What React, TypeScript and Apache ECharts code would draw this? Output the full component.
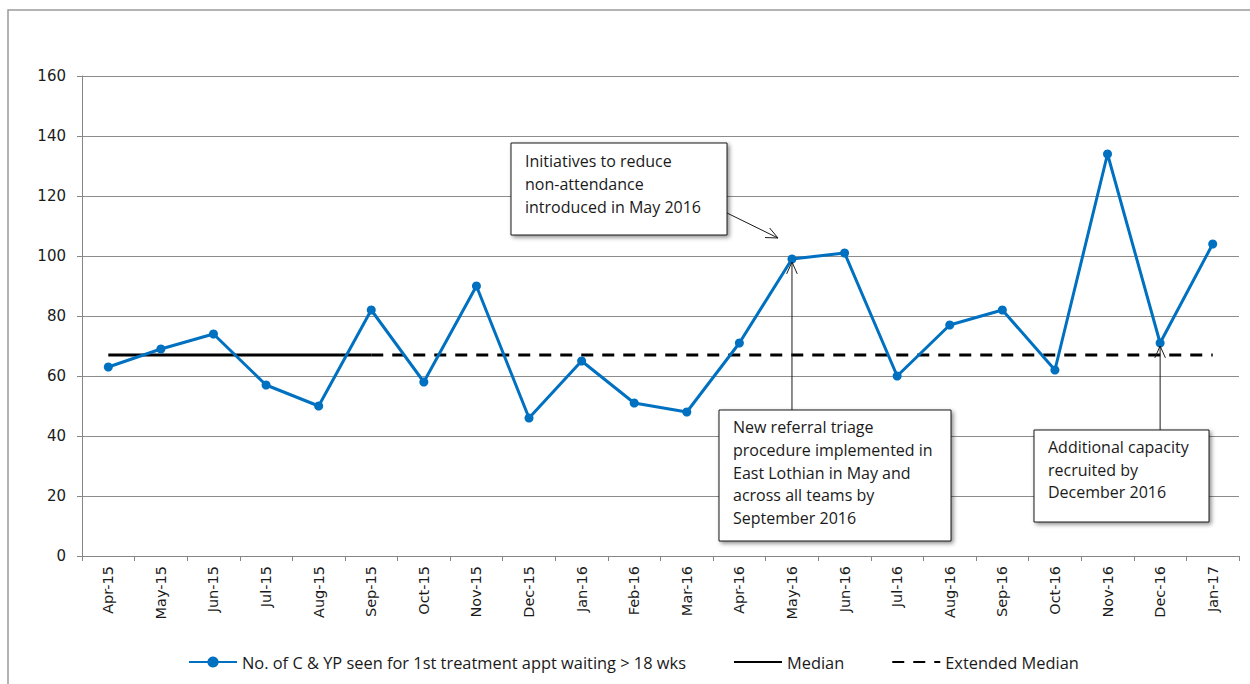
import React, { useEffect, useRef } from "react";
import * as echarts from "echarts";

// Monthly categories shown on the x axis
const months = [
  "Apr-15", "May-15", "Jun-15", "Jul-15", "Aug-15", "Sep-15", "Oct-15", "Nov-15",
  "Dec-15", "Jan-16", "Feb-16", "Mar-16", "Apr-16", "May-16", "Jun-16", "Jul-16",
  "Aug-16", "Sep-16", "Oct-16", "Nov-16", "Dec-16", "Jan-17",
];

// Children & young people seen for 1st treatment appointment after waiting > 18 weeks
const waitingCounts = [
  63, 69, 74, 57, 50, 82, 58, 90, 46, 65, 51, 48, 71, 99, 101, 60, 77, 82, 62, 134, 71, 104,
];

// Baseline median (Apr-15 .. Sep-15) and its extension (Sep-15 .. Jan-17)
const medianLine = [67, 67, 67, 67, 67, 67, null, null, null, null, null, null, null, null, null, null, null, null, null, null, null, null];
const extendedMedianLine = [null, null, null, null, null, 67, 67, 67, 67, 67, 67, 67, 67, 67, 67, 67, 67, 67, 67, 67, 67, 67];

const yMin = 0;
const yMax = 160;
const yStep = 20;

const seriesNames = [
  "No. of C & YP seen for 1st treatment appt waiting > 18 wks",
  "Median",
  "Extended Median",
];

const noteInitiatives = ["Initiatives to reduce", "non-attendance", "introduced in May 2016"];
const noteTriage = [
  "New referral triage",
  "procedure implemented in",
  "East Lothian in May and",
  "across all teams by",
  "September 2016",
];
const noteCapacity = ["Additional capacity", "recruited by", "December 2016"];

const AXIS_FONT = "'DejaVu Sans', sans-serif";
const NOTE_FONT = "'Open Sans', sans-serif";
const BLUE = "#0070C0";

function noteBox(x: number, y: number, w: number, h: number, lines: string[], lineHeight: number) {
  return {
    type: "group",
    x,
    y,
    z: 100,
    children: [
      {
        type: "rect",
        shape: { x: 0, y: 0, width: w, height: h },
        style: {
          fill: "#ffffff",
          stroke: "#1a1a1a",
          lineWidth: 1,
          shadowBlur: 4,
          shadowOffsetX: 2,
          shadowOffsetY: 2,
          shadowColor: "rgba(0,0,0,0.45)",
        },
      },
      {
        type: "text",
        x: 14,
        y: 6,
        style: {
          text: lines.join("\n"),
          font: `16px ${NOTE_FONT}`,
          fill: "#1a1a1a",
          lineHeight,
          textVerticalAlign: "top",
        },
      },
    ],
  };
}

function arrow(x1: number, y1: number, x2: number, y2: number) {
  const ang = Math.atan2(y2 - y1, x2 - x1);
  const len = 13;
  const spread = 0.42;
  const a = [x2 - len * Math.cos(ang - spread), y2 - len * Math.sin(ang - spread)];
  const b = [x2 - len * Math.cos(ang + spread), y2 - len * Math.sin(ang + spread)];
  return [
    {
      type: "line",
      z: 99,
      shape: { x1, y1, x2, y2 },
      style: { stroke: "#1a1a1a", lineWidth: 1 },
    },
    {
      type: "polyline",
      z: 99,
      shape: { points: [a, [x2, y2], b] },
      style: { stroke: "#1a1a1a", lineWidth: 1, fill: null },
    },
  ];
}

export default function App() {
  const ref = useRef<HTMLDivElement>(null);

  useEffect(() => {
    if (!ref.current) return;
    const chart = echarts.init(ref.current, null, { renderer: "svg" });

    chart.setOption({
      animation: false,
      backgroundColor: "#ffffff",
      grid: { left: 82, right: 11, top: 76, bottom: 128, containLabel: false },
      legend: {
        left: 183,
        top: 649,
        itemWidth: 48,
        itemHeight: 14,
        itemGap: 47,
        textStyle: { fontFamily: NOTE_FONT, fontSize: 16.4, color: "#1a1a1a" },
        data: [
          { name: seriesNames[0] },
          { name: seriesNames[1], itemStyle: { opacity: 0 } },
          { name: seriesNames[2], itemStyle: { opacity: 0 } },
        ],
      },
      xAxis: {
        type: "category",
        data: months,
        boundaryGap: true,
        axisLine: { show: true, lineStyle: { color: "#868686", width: 1 } },
        axisTick: { show: true, length: 5, alignWithLabel: false, lineStyle: { color: "#868686" } },
        axisLabel: {
          rotate: 90,
          interval: 0,
          margin: 10,
          color: "#1a1a1a",
          fontFamily: AXIS_FONT,
          fontSize: 14.5,
        },
        splitLine: { show: false },
      },
      yAxis: {
        type: "value",
        min: yMin,
        max: yMax,
        interval: yStep,
        axisLine: { show: true, lineStyle: { color: "#868686", width: 1 } },
        axisTick: { show: true, length: 5, lineStyle: { color: "#868686" } },
        axisLabel: { margin: 16, color: "#1a1a1a", fontFamily: AXIS_FONT, fontSize: 15 },
        splitLine: { show: true, lineStyle: { color: "#8c8c8c", width: 1 } },
      },
      series: [
        {
          name: seriesNames[0],
          type: "line",
          data: waitingCounts,
          symbol: "circle",
          symbolSize: 9,
          itemStyle: { color: BLUE },
          lineStyle: { color: BLUE, width: 3 },
          z: 5,
        },
        {
          name: seriesNames[1],
          type: "line",
          data: medianLine,
          symbol: "none",
          itemStyle: { color: "#000000" },
          lineStyle: { color: "#000000", width: 3 },
          z: 3,
        },
        {
          name: seriesNames[2],
          type: "line",
          data: extendedMedianLine,
          symbol: "none",
          itemStyle: { color: "#000000" },
          lineStyle: { color: "#000000", width: 3, type: [12, 9] },
          z: 3,
        },
      ],
    });

    const toPx = (month: string, value: number) =>
      chart.convertToPixel({ xAxisIndex: 0, yAxisIndex: 0 }, [month, value]) as number[];

    const mayPt = toPx("May-16", waitingCounts[13]);
    const decPt = toPx("Dec-16", waitingCounts[20]);

    const box2Top = 410;
    const box3Top = 430;

    chart.setOption({
      graphic: [
        {
          type: "rect",
          z: -1,
          silent: true,
          shape: { x: 8, y: 10, width: 1400, height: 800 },
          style: { fill: null, stroke: "#9a9a9a", lineWidth: 1.5 },
        },
        ...arrow(727, 213, mayPt[0] - 14, mayPt[1] - 21),
        ...arrow(mayPt[0], box2Top, mayPt[0], mayPt[1] + 3),
        ...arrow(decPt[0], box3Top, decPt[0], decPt[1] + 3),
        noteBox(511, 143, 216, 92, noteInitiatives, 23),
        noteBox(719, box2Top, 232, 131, noteTriage, 22.7),
        noteBox(1034, box3Top, 175, 92, noteCapacity, 22.5),
      ],
    });

    return () => chart.dispose();
  }, []);

  return (
    <div
      ref={ref}
      style={{ position: "fixed", left: 0, top: 0, width: 1250, height: 684, background: "#fff" }}
    />
  );
}
